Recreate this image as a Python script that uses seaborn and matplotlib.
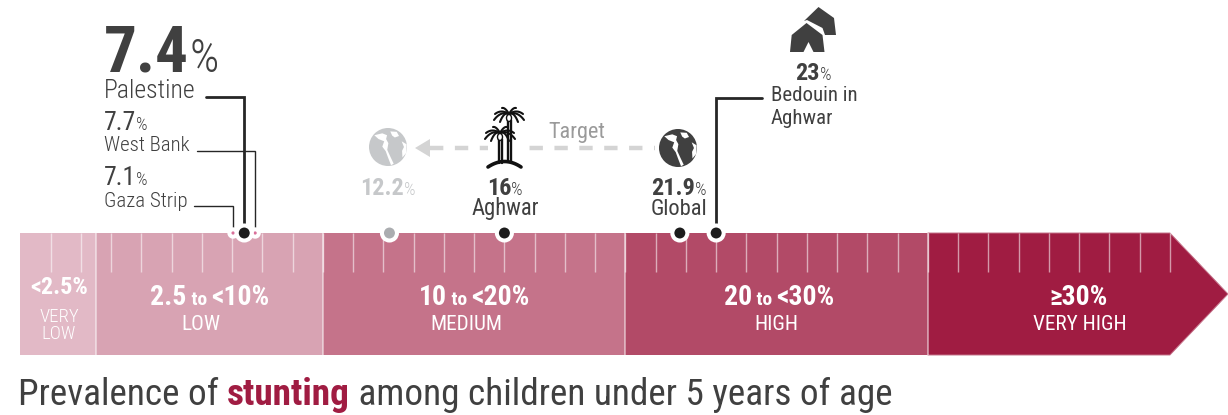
import matplotlib
matplotlib.use("Agg")
import matplotlib.pyplot as plt
from matplotlib.patches import Polygon, Ellipse
import numpy as np
import pandas as pd
import seaborn as sns

# bands of the scale (upper limit in %)
band_names = ["VERY LOW", "LOW", "MEDIUM", "HIGH", "VERY HIGH"]
band_upper = [2.5, 10, 20, 30, 38]
band_ranges = ["<2.5%", "2.5 to <10%", "10 to <20%", "20 to <30%", "≥30%"]
band_colors = ["#E2B9C6", "#D8A3B3", "#C5738A", "#B24A67", "#A01C42"]
arrow_tip = 39.92

# points on the scale, subregions first so Palestine sits on top of them
point_names = ["West Bank", "Gaza Strip", "Palestine", "Target", "Aghwar", "Global", "Bedouin in Aghwar"]
point_values = [7.76, 7.03, 7.4, 12.2, 16, 21.8, 23]
point_kind = ["sub", "sub", "main", "target", "main", "main", "main"]

DARK = "#404040"
GREY = "#C6C8CA"

sns.set_theme(style="white")
plt.rcParams["font.family"] = ["Roboto Condensed", "Roboto", "DejaVu Sans"]

fig = plt.figure(figsize=(12.28, 4.15), dpi=100)
ax = fig.add_axes([0, 0, 1, 1])


def px(p):
    # picture pixel -> % on the scale
    return (p - 20.4) / 30.25


def xy(pts):
    return [(px(a), b) for a, b in pts]


# stacked look: longest bar first, the shorter ones on top
bands = pd.DataFrame({"upper": band_upper, "name": band_names, "row": [294] * 5})
sns.barplot(data=bands, x="upper", y="row", hue="name", hue_order=band_names[::-1],
            palette=dict(zip(band_names, band_colors)), orient="h", native_scale=True,
            dodge=False, width=122, legend=False, ax=ax, saturation=1, linewidth=0, zorder=1)
ax.add_patch(Polygon([(band_upper[-1], 233), (arrow_tip, 294), (band_upper[-1], 355)],
                     closed=True, fc=band_colors[-1], ec="none", zorder=1))
ax.plot([30, band_upper[-1], arrow_tip, band_upper[-1], 30], [233, 233, 294, 355, 355],
        color="#C5738A", lw=0.7, zorder=2)

# ticks and dividers
ax.vlines(np.arange(1, band_upper[-1] + 1), 233, 272, color="white", alpha=0.55, lw=1, zorder=2)
ax.vlines(band_upper[:-1], 233, 355, color="white", alpha=0.55, lw=1.2, zorder=2)

# leader lines
for i, (x0, y0, lw) in {2: (206, 97, 2.0), 0: (197, 151, 1.0), 1: (194, 206, 1.0), 6: (762, 98, 2.0)}.items():
    v = point_values[i]
    ax.plot([px(x0), v, v], [y0, y0, 233], color="#262626", lw=lw, zorder=3, solid_joinstyle="miter")

# points
points = pd.DataFrame({"x": point_values, "y": 233, "kind": point_kind})
sns.scatterplot(data=points, x="x", y="y", hue="kind", size="kind",
                hue_order=["main", "sub", "target"],
                palette={"main": "#1C1C1C", "sub": "#D9709A", "target": "#ABADB0"},
                sizes={"main": 117, "sub": 28, "target": 117},
                edgecolor="white", linewidth=2.9, legend=False, ax=ax, zorder=4, clip_on=False)

ax.set_xlim(px(0), px(1228))
ax.set_ylim(415, 0)
ax.axis("off")

# target arrow
ax.plot([px(430), px(655)], [148, 148], color="#D4D4D4", lw=3.2, dashes=(3.0, 2.6), zorder=2)
ax.add_patch(Polygon(xy([(415, 148), (430, 139), (430, 157)]), closed=True, fc="#D4D4D4", ec="none", zorder=2))


# icons
def globe(cx, cy, color):
    r = 19
    ax.add_patch(Ellipse((px(cx), cy), 2 * r / 30.25, 2 * r, fc=color, ec="none", zorder=5))
    sea = [
        [(-0.72, -0.62), (-0.3, -0.72), (-0.05, -0.62), (-0.1, -0.42), (0.02, -0.2), (-0.04, 0.15), (0.12, 0.5),
         (0.3, 0.88), (0.16, 0.96), (0.0, 0.55), (-0.12, 0.22), (-0.3, -0.02), (-0.2, -0.3), (-0.5, -0.42)],
        [(0.72, -0.3), (0.98, -0.14), (0.97, 0.3), (0.76, 0.55), (0.74, 0.2), (0.84, 0.0)],
        [(0.12, -0.82), (0.46, -0.8), (0.58, -0.58), (0.36, -0.5), (0.22, -0.6)],
    ]
    for s in sea:
        ax.add_patch(Polygon(xy([(cx + a * r, cy + b * r) for a, b in s]), closed=True, fc="white", ec="none", zorder=5))


def palm(cx, cy, base):
    # fronds as little bezier curves drooping from the crown
    t = np.linspace(0, 1, 12)
    for dx, dy in [(-15, 6), (-14, 0), (-7, -6), (7, -6), (14, 0), (15, 6), (-9, 8), (9, 8)]:
        mx, my = dx * 0.55, dy * 0.3 - 5
        fx = 2 * t * (1 - t) * mx + t * t * dx
        fy = 2 * t * (1 - t) * my + t * t * dy
        ax.plot(px(cx + fx), cy + fy, color="#111111", lw=1.5, zorder=6, solid_capstyle="round")
    ax.plot([px(cx - 1.5)] * 2, [cy + 6, base], color="#111111", lw=1.7, zorder=5)
    ax.plot([px(cx + 1.5)] * 2, [cy + 6, base], color="#111111", lw=1.7, zorder=5)
    ax.add_patch(Ellipse((px(cx), cy + 4), 5 / 30.25, 7, fc="white", ec="#111111", lw=1, zorder=6))


globe(388, 147, GREY)
globe(678, 148, DARK)
# white gap behind the palms on the dashed line
ax.add_patch(Polygon(xy([(488, 142), (522, 142), (522, 154), (488, 154)]), closed=True, fc="white", ec="none", zorder=2.5))
palm(509, 114, 162)
palm(500, 133, 163)
t = np.linspace(-1, 1, 20)
ax.plot(px(504.5 + 16.5 * t), 161.5 + 5.5 * t ** 2, color="#111111", lw=2.6, zorder=6)

ax.add_patch(Polygon(xy([(818.5, 7), (834, 18), (836, 35), (825, 35), (822.5, 28), (807, 20), (804, 21)]),
                     closed=True, fc=DARK, ec="none", zorder=5))
ax.add_patch(Polygon(xy([(806.5, 23), (822.5, 35), (824.5, 52), (813.5, 52), (808.5, 42), (803.5, 52), (790, 52), (791.7, 35)]),
                     closed=True, fc=DARK, ec="none", zorder=5))


def run(x, y, parts, ha="left"):
    # several text pieces on one baseline, x in pixels
    rend = fig.canvas.get_renderer()
    items = []
    w = 0
    for s, size, weight, color in parts:
        t = ax.text(px(x), y, s, fontsize=size, fontweight=weight, color=color, va="baseline", ha="left", zorder=6)
        items.append((t, w))
        w += t.get_window_extent(rend).width
    x0 = x - w / 2 if ha == "center" else x
    for t, off in items:
        t.set_x(px(x0 + off))


def label(x, y, s, size=15, color=DARK, ha="left", weight="normal"):
    ax.text(px(x), y, s, fontsize=size, color=color, ha=ha, va="baseline", fontweight=weight, zorder=6)


# left block
run(104, 71.5, [("7.4", 47, "bold", DARK), ("%", 33, "light", DARK)])
label(104, 98, point_names[2], 18.5, weight="light")
run(104, 130, [("7.7", 18.5, "normal", DARK), ("%", 13, "light", DARK)])
label(104, 151, point_names[0], 15, weight="light")
run(104, 185, [("7.1", 18.5, "normal", DARK), ("%", 13, "light", DARK)])
label(104, 207, point_names[1], 15, weight="light")

# middle labels
run(388, 194.5, [("12.2", 17.5, "bold", GREY), ("%", 13, "light", GREY)], ha="center")
run(505, 194.5, [("16", 17.5, "bold", DARK), ("%", 13, "light", DARK)], ha="center")
label(505, 214.5, point_names[4], 16.3, ha="center")
run(679, 194.5, [("21.9", 17.5, "bold", DARK), ("%", 13, "light", DARK)], ha="center")
label(678.5, 214.5, point_names[5], 16.2, ha="center")
run(813.5, 80, [("23", 17.5, "bold", DARK), ("%", 13, "light", DARK)], ha="center")
label(771, 100.5, "Bedouin in", 15)
label(771, 124, "Aghwar", 15)
label(548, 138, point_names[3], 16, color="#9A9A9A")


# band labels
def range_label(x, y, s):
    if " to " in s:
        a, b = s.split(" to ")
        run(x, y, [(a, 20, "bold", "white"), (" to ", 14, "bold", "white"), (b, 20, "bold", "white")], ha="center")
    else:
        run(x, y, [(s, 20, "bold", "white")], ha="center")


run(59, 294, [(band_ranges[0], 17.5, "bold", "white")], ha="center")
label(59, 322, "VERY", 13.5, "white", "center", "light")
label(59, 339, "LOW", 13.5, "white", "center", "light")
for cx, sx, s, n in zip([210, 474, 779, 1079], [201, 466, 776, 1080], band_ranges[1:], band_names[1:]):
    range_label(cx, 305, s)
    label(sx, 330, n, 15.3, "white", "center")

# title
run(18, 405, [("Prevalence of ", 26.8, "normal", DARK), ("stunting", 26.8, "bold", band_colors[-1]),
              (" among children under 5 years of age", 26.8, "normal", DARK)])

fig.savefig("out.png", dpi=100)
